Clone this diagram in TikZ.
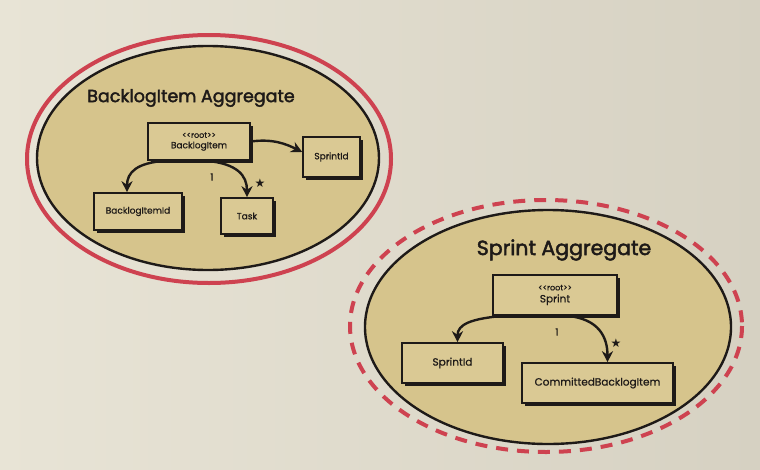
\documentclass[tikz,border=0pt]{standalone}
\usepackage{fontspec}
\setmainfont{Poppins}[Ligatures=NoCommon]
\newfontfamily\boxfont{Poppins}[FakeBold=0.8]
\newfontfamily\titlefont{Poppins}[FakeBold=2.2]
\newfontfamily\symfont{DejaVu Sans}
\usetikzlibrary{arrows.meta,calc,shadows}
\definecolor{paperL}{RGB}{232,228,214}
\definecolor{paperR}{RGB}{214,209,194}
\definecolor{tan}{RGB}{214,196,140}
\definecolor{boxfill}{RGB}{218,201,148}
\definecolor{redline}{RGB}{206,66,80}
\definecolor{ink}{RGB}{30,26,24}
\tikzset{
  umlbox/.style={draw=ink, line width=1.6pt, fill=boxfill, inner sep=1pt,
    align=center, font=\boxfont\fontsize{9}{10.5}\selectfont, text=ink,
    drop shadow={shadow xshift=2.5pt, shadow yshift=-2.5pt, fill=ink, opacity=1}},
  bigbox/.style={umlbox, font=\boxfont\fontsize{10.5}{12}\selectfont},
  assoc/.style={draw=ink, line width=2.4pt, -{Stealth[length=11pt,width=11pt]}},
  agtitle/.style={font=\titlefont\fontsize{17.5}{19}\selectfont, text=ink},
  mult/.style={font=\boxfont\fontsize{10}{11}\selectfont, text=ink, inner sep=0pt},
  starlbl/.style={font=\symfont\fontsize{12}{12}\selectfont, text=ink, inner sep=0pt},
}
\newcommand{\rootst}{\fontsize{8}{9}\selectfont <{}<root>{}>}
\begin{document}
\begin{tikzpicture}[x=1pt,y=-1pt]
\useasboundingbox (0,0) rectangle (760,469);
\shade[left color=paperL, right color=paperR] (0,0) rectangle (760,469);

% BacklogItem aggregate
\draw[redline, line width=4pt] (209,159) ellipse [x radius=182, y radius=124];
\draw[ink, line width=2.4pt, fill=tan] (208,158) ellipse [x radius=171, y radius=112];
\node[agtitle] (t1) at (191,98) {BacklogItem Aggregate};

\node[umlbox, minimum width=102pt, minimum height=37pt] (biroot) at (199,141.5) {\rootst\\BacklogItem};
\node[umlbox, minimum width=57pt, minimum height=40pt] (sid1) at (331.5,157) {SprintId};
\node[umlbox, minimum width=88pt, minimum height=37pt] (bid) at (138,211.5) {BacklogItemId};
\node[umlbox, minimum width=52pt, minimum height=36pt] (task) at (247,216) {Task};

\draw[assoc] (biroot.east) .. controls +(22,-3) and +(-16,-8) .. ($(sid1.west)+(0,-5)$);
\draw[assoc] ($(biroot.south)+(-34,0)$) .. controls +(-28,2) and +(0,-20) .. ($(bid.north)+(-11,0)$);
\draw[assoc] ($(biroot.south)+(8,0)$) .. controls +(30,3) and +(0,-22) .. (task.north);
\node[mult] (m1) at (212,177) {1};
\node[starlbl] (n1) at (260,183) {★};

% Sprint aggregate
\draw[redline, line width=4pt, dash pattern=on 12pt off 9pt] (546,326) ellipse [x radius=196, y radius=126];
\draw[ink, line width=2.4pt, fill=tan] (548,327) ellipse [x radius=183, y radius=117];
\node[agtitle, font=\titlefont\fontsize{20.5}{22}\selectfont] (t2) at (564,250) {Sprint Aggregate};

\node[bigbox, minimum width=124pt, minimum height=40pt] (sroot) at (555,295) {\rootst\\Sprint};
\node[bigbox, minimum width=101pt, minimum height=40pt] (sid2) at (452.5,363) {SprintId};
\node[bigbox, minimum width=151pt, minimum height=40pt] (cbi) at (597.5,383) {CommittedBacklogItem};

\draw[assoc] ($(sroot.south)+(-52,0)$) .. controls +(-32,3) and +(0,-18) .. ($(sid2.north)+(5,0)$);
\draw[assoc] ($(sroot.south)+(12,0)$) .. controls +(32,3) and +(0,-25) .. ($(cbi.north)+(10,0)$);
\node[mult] (m2) at (557,332) {1};
\node[starlbl] (n2) at (616,343) {★};
\end{tikzpicture}
\end{document}
